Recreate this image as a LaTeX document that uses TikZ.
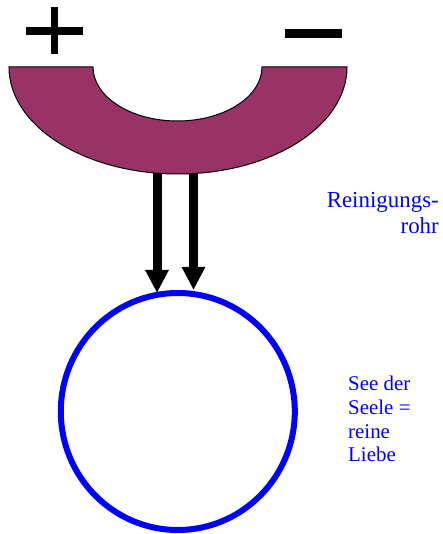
\documentclass[tikz,border=0pt]{standalone}
\usepackage{fontspec}
\setmainfont{Liberation Serif}
\usetikzlibrary{arrows.meta,shapes.geometric}
\definecolor{magnetplum}{RGB}{153,51,102}
\definecolor{seeblue}{RGB}{0,0,255}
\tikzset{
  signbar/.style={fill=black},
  magnetbody/.style={fill=magnetplum, draw=black, line width=1bp},
  flowarrow/.style={line width=9bp, -{Triangle[width=22bp,length=23bp]}},
  seering/.style={draw=seeblue, line width=6bp, ellipse, minimum width=234bp, minimum height=237bp, inner sep=0pt},
  bluelabel/.style={text=seeblue, inner sep=0pt}
}
\begin{document}
\begin{tikzpicture}[x=1bp,y=1bp]
\useasboundingbox (0,0) rectangle (443,534);
% plus sign
\fill[signbar] (26,499) rectangle (83,507);
\fill[signbar] (51,480) rectangle (58,527);
% minus sign
\fill[signbar] (285,496) rectangle (342,505);
% magnet
\draw[magnetbody] (9,467) -- (93,467)
  arc[start angle=180, end angle=360, x radius=84.5bp, y radius=54bp]
  -- (347,467)
  arc[start angle=0, end angle=-180, x radius=169bp, y radius=107bp] -- cycle;
% sea of the soul
\node[seering] (see) at (177.8,122.5) {};
% arrow endpoints
\coordinate (a1s) at (157,361);
\coordinate (a2s) at (193.5,361);
\coordinate (a1e) at (157,241);
\coordinate (a2e) at (193.5,244);
\draw[flowarrow] (a1s) -- (a1e);
\draw[flowarrow] (a2s) -- (a2e);
% labels
\node[bluelabel, anchor=base east, align=right, font=\fontsize{23}{27}\selectfont] (rohr) at (439,300) {Reinigungs-\\rohr};
\node[bluelabel, anchor=base west, align=left, font=\fontsize{21}{24}\selectfont] (seele) at (348,72) {See der\\Seele =\\reine\\Liebe};
\end{tikzpicture}
\end{document}
